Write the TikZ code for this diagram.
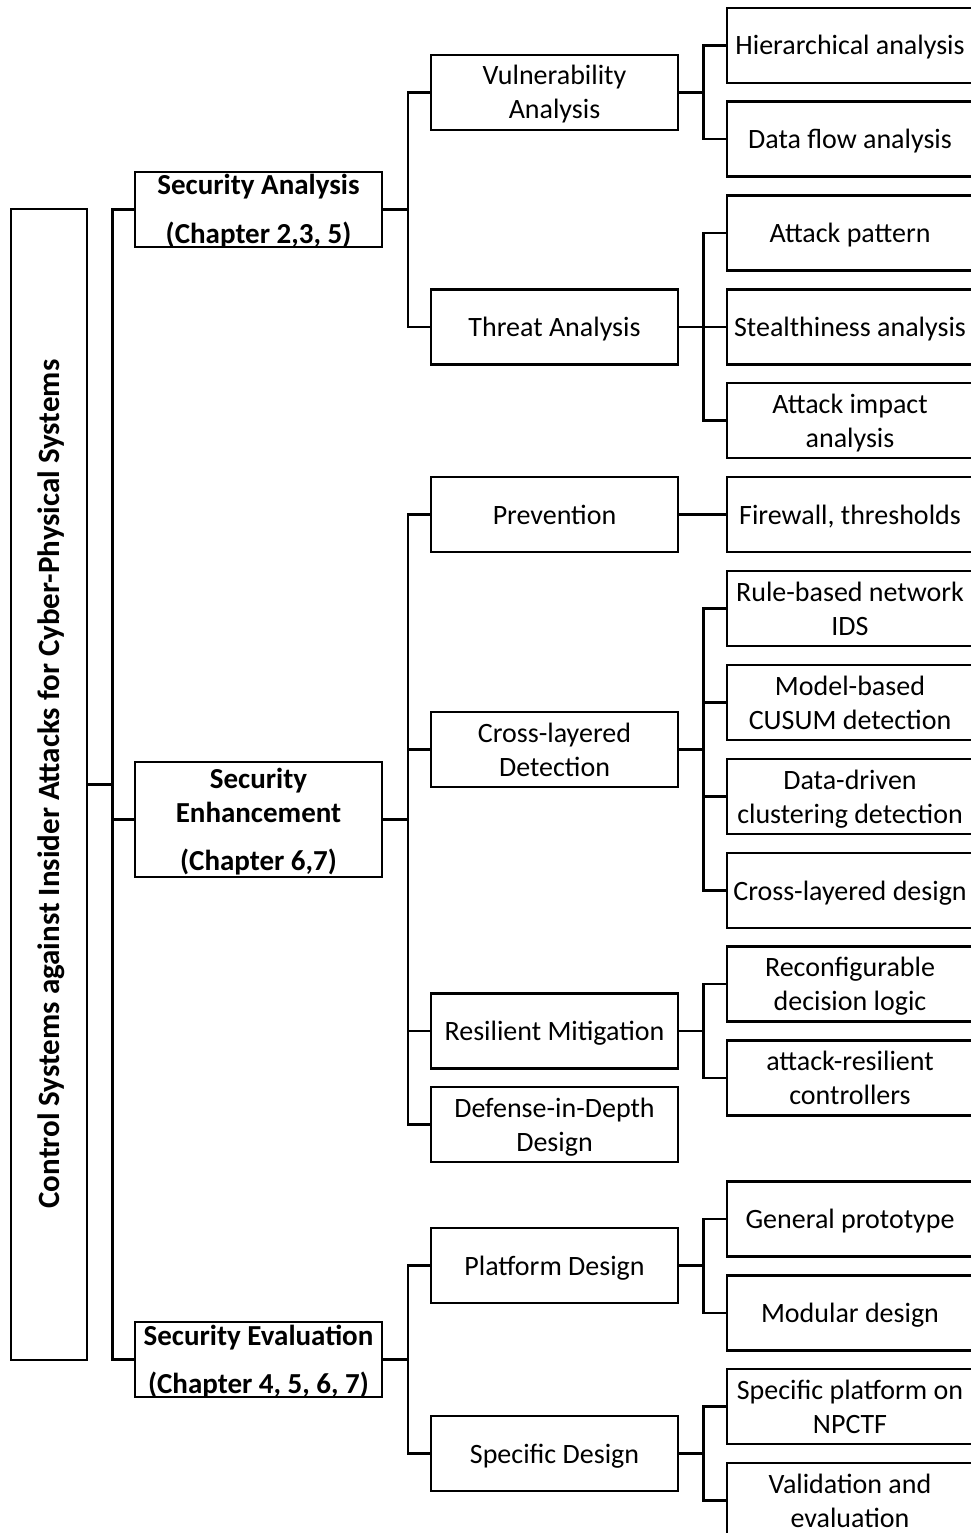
\documentclass[tikz,border=0pt]{standalone}
\usepackage{fontspec}
\setmainfont{Carlito}
% fixed line box: 26.5pt above the baseline, 7.5pt below
\newcommand\lstrut{\rule[-7.5pt]{0pt}{34pt}}
\begin{document}
\begin{tikzpicture}[x=1pt,y=-1pt,
  every node/.style={font=\fontsize{28}{34}\selectfont},
  box/.style={draw=black, line width=2.5pt, fill=white, inner sep=0pt,
    align=center, minimum width=#1, minimum height=75pt},
  box/.default=247pt,
  headbox/.style={box},
  headtext/.style={inner sep=0pt, align=center, font=\fontsize{29}{34}\selectfont\bfseries},
  leafbox/.style={box=246pt},
  link/.style={draw=black, line width=2.5pt, line join=miter}
]
\useasboundingbox (0,0) rectangle (971,1533);

% root
\node[draw=black, line width=2.5pt, minimum width=76pt, minimum height=1151pt, inner sep=0pt]
  (root) at (49,784.5) {};
\node[rotate=90, font=\fontsize{31}{36}\selectfont\bfseries] (roottxt) at (51,784)
  {Control Systems against Insider Attacks for Cyber-Physical Systems};

% first level: boxes, with their titles set over them
\node[headbox] (sa)  at (258.5,209.5)  {};
\node[headbox, minimum height=115pt] (se) at (258.5,819.5) {};
\node[headbox] (sev) at (258.5,1359.5) {};
\node[headtext] (satxt)  at (sa.center)  {\lstrut Security Analysis\\[14pt]\lstrut (Chapter 2,3, 5)};
\node[headtext] (setxt)  at (se.center)  {\lstrut Security\\\lstrut Enhancement\\[14pt]\lstrut (Chapter 6,7)};
\node[headtext] (sevtxt) at (sev.center) {\lstrut Security Evaluation\\[14pt]\lstrut (Chapter 4, 5, 6, 7)};

% second level
\node[box] (va)   at (554.5,92.5)   {\lstrut Vulnerability\\\lstrut Analysis};
\node[box] (ta)   at (554.5,327)    {\lstrut Threat Analysis};
\node[box] (prev) at (554.5,514.5)  {\lstrut Prevention};
\node[box] (cld)  at (554.5,749.5)  {\lstrut Cross-layered\\\lstrut Detection};
\node[box] (rm)   at (554.5,1031)   {\lstrut Resilient Mitigation};
\node[box] (did)  at (554.5,1124.5) {\lstrut Defense-in-Depth\\\lstrut Design};
\node[box] (pd)   at (554.5,1265.5) {\lstrut Platform Design};
\node[box] (sd)   at (554.5,1453.5) {\lstrut Specific Design};

% leaves
\node[leafbox] (ha)   at (850,45.5)   {\lstrut Hierarchical analysis};
\node[leafbox] (dfa)  at (850,139)    {\lstrut Data flow analysis};
\node[leafbox] (ap)   at (850,233)    {\lstrut Attack pattern};
\node[leafbox] (sta)  at (850,327)    {\lstrut Stealthiness analysis};
\node[leafbox] (aia)  at (850,420.5)  {\lstrut Attack impact\\\lstrut analysis};
\node[leafbox] (fw)   at (850,514.5)  {\lstrut Firewall, thresholds};
\node[leafbox] (rb)   at (850,608.5)  {\lstrut Rule-based network\\\lstrut IDS};
\node[leafbox] (mb)   at (850,702.5)  {\lstrut Model-based\\\lstrut CUSUM detection};
\node[leafbox] (dd)   at (850,796.5)  {\lstrut Data-driven\\\lstrut clustering detection};
\node[leafbox] (cdes) at (850,890.5)  {\lstrut Cross-layered design};
\node[leafbox] (rdl)  at (850,984)    {\lstrut Reconfigurable\\\lstrut decision logic};
\node[leafbox] (arc)  at (850,1078)   {\lstrut attack-resilient\\\lstrut controllers};
\node[leafbox] (gp)   at (850,1219)   {\lstrut General prototype};
\node[leafbox] (md)   at (850,1313)   {\lstrut Modular design};
\node[leafbox] (sp)   at (850,1406.5) {\lstrut Specific platform on\\\lstrut NPCTF};
\node[leafbox] (ve)   at (850,1500.5) {\lstrut Validation and\\\lstrut evaluation};

% connectors: parent east -> bus -> child west
\foreach \c in {sa,se,sev}
  \draw[link] (root.east) -- ++(24,0) |- (\c.west);
\foreach \c in {va,ta}
  \draw[link] (sa.east) -- ++(24.5,0) |- (\c.west);
\foreach \c in {prev,cld,rm,did}
  \draw[link] (se.east) -- ++(24.5,0) |- (\c.west);
\foreach \c in {pd,sd}
  \draw[link] (sev.east) -- ++(24.5,0) |- (\c.west);
\foreach \c in {ha,dfa}
  \draw[link] (va.east) -- ++(24,0) |- (\c.west);
\foreach \c in {ap,sta,aia}
  \draw[link] (ta.east) -- ++(24,0) |- (\c.west);
\draw[link] (prev.east) -- (fw.west);
\foreach \c in {rb,mb,dd,cdes}
  \draw[link] (cld.east) -- ++(24,0) |- (\c.west);
\foreach \c in {rdl,arc}
  \draw[link] (rm.east) -- ++(24,0) |- (\c.west);
\foreach \c in {gp,md}
  \draw[link] (pd.east) -- ++(24,0) |- (\c.west);
\foreach \c in {sp,ve}
  \draw[link] (sd.east) -- ++(24,0) |- (\c.west);
\end{tikzpicture}
\end{document}
